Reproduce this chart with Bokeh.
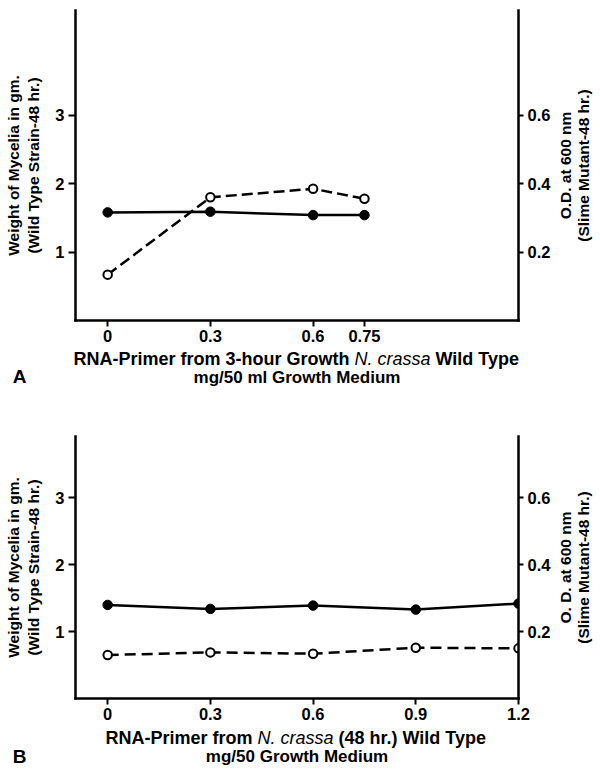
import math
from bokeh.plotting import figure
from bokeh.models import Range1d, LinearAxis, FixedTicker
from bokeh.core.properties import value
from bokeh.layouts import column, row
from bokeh.embed import file_html
from bokeh.resources import INLINE

# ---------------- data ----------------
# Panel A: RNA-primer from 3-hour growth (mg/50 ml)
a_dose = [0, 0.3, 0.6, 0.75]
a_weight = [1.58, 1.59, 1.54, 1.54]          # weight of mycelia, g (wild type)
a_od = [0.134, 0.360, 0.385, 0.356]          # O.D. at 600 nm (slime mutant)
a_xticks = [0, 0.3, 0.6, 0.75]
a_xtick_labels = ["0", "0.3", "0.6", "0.75"]

# Panel B: RNA-primer from 48 hr wild type (mg/50)
b_dose = [0, 0.3, 0.6, 0.9, 1.2]
b_weight = [1.40, 1.34, 1.39, 1.33, 1.42]
b_od = [0.130, 0.138, 0.134, 0.152, 0.150]
b_xticks = [0, 0.3, 0.6, 0.9, 1.2]
b_xtick_labels = ["0", "0.3", "0.6", "0.9", "1.2"]

weight_ticks = [1, 2, 3]
weight_tick_labels = ["1", "2", "3"]
od_ticks = [0.2, 0.4, 0.6]
od_tick_labels = ["0.2", "0.4", "0.6"]

left_ylabel = "Weight of Mycelia in gm.\n(Wild Type Strain-48 hr.)"
right_ylabel_a = ["O.D. at 600 nm", "(Slime Mutant-48 hr.)"]
right_ylabel_b = ["O. D. at 600 nm", "(Slime Mutant-48 hr.)"]

a_xlabel_line1 = ["RNA-Primer from 3-hour Growth", "N. crassa", "Wild Type"]
a_xlabel_line2 = "mg/50 ml Growth Medium"
b_xlabel_line1 = ["RNA-Primer from", "N. crassa", "(48 hr.) Wild Type"]
b_xlabel_line2 = "mg/50 Growth Medium"

FONT = "Liberation Sans"
X0, X1 = -0.094, 1.2
FRAME_W = 443
PAGE_W = 600
BORDER_L = 75
BORDER_R = 38
RSTRIP_W = PAGE_W - BORDER_L - FRAME_W - BORDER_R   # 44


def style_axis(ax, out=6, standoff=4):
    ax.axis_line_width = 2.5
    ax.axis_line_color = "black"
    ax.axis_line_cap = "square"
    ax.major_tick_line_width = 2
    ax.major_tick_line_color = "black"
    ax.major_tick_in = 0
    ax.major_tick_out = out
    ax.minor_tick_line_color = None
    ax.major_label_standoff = standoff
    ax.major_label_text_font = FONT
    ax.major_label_text_font_style = "bold"
    ax.major_label_text_font_size = "16.5px"
    ax.major_label_text_color = "black"
    ax.axis_label_text_font = FONT
    ax.axis_label_text_font_style = "bold"
    ax.axis_label_text_font_size = "15.5px"
    ax.axis_label_text_color = "black"
    ax.axis_label_text_line_height = 1.2


def text_fig(width, height, xr, yr):
    s = figure(width=width, height=height, x_range=xr, y_range=yr,
               output_backend="svg", toolbar_location=None,
               x_axis_location=None, y_axis_location=None,
               min_border=0, min_border_left=0, min_border_right=0,
               min_border_top=0, min_border_bottom=0)
    s.outline_line_color = None
    s.grid.visible = False
    s.background_fill_color = "white"
    s.border_fill_color = "white"
    return s


def make_panel(dose, weight, od, xticks, xlabels, y_top, frame_h, top_b, dash):
    p = figure(frame_width=FRAME_W, frame_height=frame_h,
               x_range=Range1d(X0, X1), y_range=Range1d(0, y_top),
               output_backend="svg", toolbar_location=None,
               min_border_left=BORDER_L, min_border_right=BORDER_R,
               min_border_top=top_b, min_border_bottom=29)
    p.outline_line_color = None
    p.grid.visible = False
    p.background_fill_color = "white"
    p.border_fill_color = "white"

    p.extra_y_ranges = {"od": Range1d(0, y_top / 5.0)}

    xa = p.xaxis[0]
    xa.ticker = FixedTicker(ticks=xticks)
    xa.major_label_overrides = dict(zip(xticks, xlabels))
    style_axis(xa, out=6, standoff=3)

    ya = p.yaxis[0]
    ya.ticker = FixedTicker(ticks=weight_ticks)
    ya.major_label_overrides = dict(zip(weight_ticks, weight_tick_labels))
    style_axis(ya, out=7, standoff=4)
    ya.axis_label = left_ylabel
    ya.axis_label_standoff = 10

    ra = LinearAxis(y_range_name="od", ticker=FixedTicker(ticks=od_ticks))
    ra.major_label_overrides = dict(zip(od_ticks, od_tick_labels))
    style_axis(ra, out=5, standoff=4)
    p.add_layout(ra, "right")

    # wild type weight (solid, filled)
    p.line(dose, weight, line_width=2.5, line_color="black")
    p.scatter(dose, weight, marker="circle", size=9.5,
              fill_color="black", line_color="black")
    # slime mutant O.D. (dashed, open)
    p.line(dose, od, y_range_name="od", line_width=2.5, line_color="black",
           line_dash=dash)
    p.scatter(dose, od, y_range_name="od", marker="circle", size=8.5,
              fill_color="white", line_color="black", line_width=2)
    return p


def make_right_strip(height, lines):
    """Right-hand y label, rotated to read bottom-to-top."""
    s = text_fig(RSTRIP_W, height, Range1d(0, RSTRIP_W), Range1d(0, 1))
    for txt, xx in zip(lines, [9, 27]):
        s.text(x=[xx], y=[0.5], text=[txt], angle=math.pi / 2,
               text_align="center", text_baseline="middle",
               text_font=value(FONT), text_font_style="bold",
               text_font_size="15.5px", text_color="black")
    return s


def make_strip(height, parts, part_x, line2, letter, y1, y2, yl):
    """A text-only strip (x label lines + panel letter) below a panel."""
    s = text_fig(PAGE_W, height, Range1d(0, PAGE_W), Range1d(height, 0))
    aligns = ["right", "left", "left"]
    styles = ["bold", "italic", "bold"]
    for txt, xx, al, st in zip(parts, part_x, aligns, styles):
        s.text(x=[xx], y=[y1], text=[txt], text_align=al, text_baseline="middle",
               text_font=value(FONT), text_font_style=st, text_font_size="18px",
               text_color="black")
    s.text(x=[BORDER_L + FRAME_W / 2], y=[y2], text=[line2], text_align="center",
           text_baseline="middle", text_font=value(FONT), text_font_style="bold",
           text_font_size="17px", text_color="black")
    s.text(x=[19], y=[yl], text=[letter], text_align="center", text_baseline="middle",
           text_font=value(FONT), text_font_style="bold", text_font_size="19px",
           text_color="black")
    return s


pA = make_panel(a_dose, a_weight, a_od, a_xticks, a_xtick_labels,
                y_top=4.53, frame_h=310, top_b=10, dash="11 5")
rA = make_right_strip(10 + 310 + 29, right_ylabel_a)
sA = make_strip(45, a_xlabel_line1, [349.0, 354.0, 435.0], a_xlabel_line2, "A",
                y1=9, y2=28, yl=27)

pB = make_panel(b_dose, b_weight, b_od, b_xticks, b_xtick_labels,
                y_top=3.92, frame_h=262, top_b=42, dash="11 6")
rB = make_right_strip(42 + 262 + 29, right_ylabel_b)
sB = make_strip(40, b_xlabel_line1, [252.0, 257.0, 338.0], b_xlabel_line2, "B",
                y1=10, y2=29, yl=29)

layout = column(row(pA, rA, spacing=0), row(sA, spacing=0),
                row(pB, rB, spacing=0), row(sB, spacing=0), spacing=0)
open("out.html", "w").write(file_html(layout, INLINE))
